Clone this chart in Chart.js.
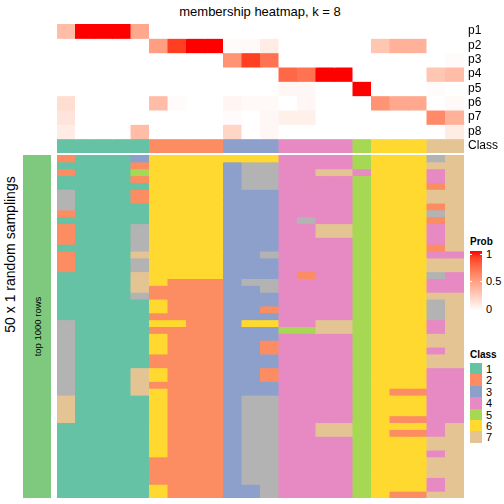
<!DOCTYPE html>
<html>
<head>
<meta charset="utf-8">
<script src="https://cdn.jsdelivr.net/npm/chart.js@4.4.1/dist/chart.umd.min.js"></script>
<style>
  body { margin: 0; background: #fff; font-family: "Liberation Sans", Arial, sans-serif; color: #000; }
  #wrap { position: relative; width: 504px; height: 504px; overflow: hidden; }
  .abs { position: absolute; }
  .rot { transform: rotate(-90deg); text-align: center; white-space: nowrap; }
  .lgTitle { font-weight: bold; font-size: 10px; line-height: 12px; }
  .lgText { font-size: 11px; line-height: 12px; }
</style>
</head>
<body>
<div id="wrap">
  <div class="abs" id="title" style="left:60px;top:4px;width:400px;text-align:center;font-size:13px;line-height:16px;">membership heatmap, k = 8</div>
  <div class="abs rot" style="left:-90px;top:246px;width:200px;font-size:14px;line-height:17px;">50 x 1 random samplings</div>
  <div class="abs" style="left:23px;top:155px;width:28px;height:343px;background:#7FC97F;"></div>
  <div class="abs rot" style="left:-13px;top:321px;width:100px;font-size:9.5px;line-height:11px;">top 1000 rows</div>
  <canvas id="probChart" class="abs" width="447" height="129" style="left:57px;top:24px;"></canvas>
  <canvas id="memberChart" class="abs" width="407" height="343" style="left:57px;top:155px;"></canvas>
  <div id="legend"></div>
</div>
<script>
// columns of the heatmap (samples) and their class
const columns = ['c1','c2','c3','c4','c5','c6','c7','c8','c9','c10','c11','c12','c13','c14','c15','c16','c17','c18','c19','c20','c21','c22'];
const columnClass = [1,1,1,1,1,2,2,2,2,3,3,3,4,4,4,4,5,6,6,6,7,7];

// membership probabilities, one array per row
const probRowNames = ['p1','p2','p3','p4','p5','p6','p7','p8'];
const p1 = [0.35,1,1,1,0.45,0,0,0,0,0,0,0,0,0,0,0,0,0,0,0,0,0];
const p2 = [0,0,0,0,0,0.5,0.9,1,1,0.02,0.03,0.1,0,0,0,0,0,0.3,0.4,0.4,0,0];
const p3 = [0,0,0,0,0,0,0,0,0,0.55,0.9,0.7,0,0,0,0,0,0,0,0,0,0.02];
const p4 = [0,0,0,0,0,0,0,0,0,0,0,0,0.75,0.7,1,1,0,0,0,0,0.3,0.35];
const p5 = [0,0,0,0,0,0,0,0,0,0,0,0,0.04,0.04,0,0,1,0,0,0,0.02,0];
const p6 = [0.18,0,0,0,0,0.35,0.02,0,0,0.05,0.03,0.03,0,0.04,0,0,0,0.55,0.45,0.45,0,0.03];
const p7 = [0.14,0,0,0,0,0,0,0,0,0.02,0,0.04,0.08,0.08,0,0,0,0,0,0,0.6,0.4];
const p8 = [0.1,0,0,0,0.35,0,0,0,0,0.22,0,0.04,0,0,0,0,0,0,0,0,0,0.1];
const probRows = [p1, p2, p3, p4, p5, p6, p7, p8];

// class found in each random sampling (row) for each column, 0 = not matched
const memberRows = [
  '2111366666664444566607',
  '1111266663004444566677',
  '2111566663004477466647',
  '1111266663004444566647',
  '1111166663004444566627',
  '0111266663334444566677',
  '0111266663334444566677',
  '0111166663334444566627',
  '2111166663334444566607',
  '1111166663334044566627',
  '2111066663334477566647',
  '2111066663334477566647',
  '2111066663334444566647',
  '1111066663334444566627',
  '2111766663304444566644',
  '2111066663334444566677',
  '2111066663334444566677',
  '1111766663334244566604',
  '1111762223004444566644',
  '1111722223304444566644',
  '1111022223334444566677',
  '1111162223334444566607',
  '1111162223324444566607',
  '1111122223334444566607',
  '0111166223664477566647',
  '0111122223335577566647',
  '0111162223334444566677',
  '0111162223324444566677',
  '0111162223324444566647',
  '0111122223334444566677',
  '0111122223334444566677',
  '0111762223324444566644',
  '0111762223324444566644',
  '0111722223334444566644',
  '0111762223334444562244',
  '7111162223004444566644',
  '7111162223004444566644',
  '7111162223004444566644',
  '7111162223004444562244',
  '1111162223004477566647',
  '1111162223004477562247',
  '1111162223004444566677',
  '1111162223004444566677',
  '1111162223004444566647',
  '1111122223004444566677',
  '1111122223004444566677',
  '1111122223004444566677',
  '1111122223004444566647',
  '1111162223304444566647',
  '1111162223304444562277'
];

const classNames = ['1','2','3','4','5','6','7'];
const classColors = ['#B3B3B3','#66C2A5','#FC8D62','#8DA0CB','#E78AC3','#A6D854','#FFD92F','#E5C494'];
const probTicks = [1, 0.5, 0];

const FONT = '"Liberation Sans", Arial, sans-serif';

// white -> red, interpolated in LAB like colorRamp2
function probColor(t) {
  const L = 100 + (53.24 - 100) * t, A = 80.09 * t, B = 67.2 * t;
  const fy = (L + 16) / 116, fx = fy + A / 500, fz = fy - B / 200;
  const inv = f => (f ** 3 > 0.008856 ? f ** 3 : (f - 16 / 116) / 7.787);
  const X = 0.95047 * inv(fx), Y = inv(fy), Z = 1.08883 * inv(fz);
  let r = 3.2406 * X - 1.5372 * Y - 0.4986 * Z;
  let g = -0.9689 * X + 1.8758 * Y + 0.0415 * Z;
  let b = 0.0557 * X - 0.204 * Y + 1.057 * Z;
  const gam = c => {
    c = Math.min(1, Math.max(0, c));
    c = c > 0.0031308 ? 1.055 * Math.pow(c, 1 / 2.4) - 0.055 : 12.92 * c;
    return Math.round(c * 255);
  };
  return 'rgb(' + gam(r) + ',' + gam(g) + ',' + gam(b) + ')';
}

const barOpts = { barPercentage: 1, categoryPercentage: 1, borderWidth: 0, inflateAmount: 0.5 };

// top: probability rows + class annotation
const rowLabels = probRowNames.concat(['Class']);
const probSets = probRows.map((vals, i) => ({
  label: probRowNames[i],
  data: vals.map(() => 1),
  backgroundColor: vals.map(probColor)
}));
probSets.push({
  label: 'Class',
  data: columnClass.map(() => 1),
  backgroundColor: columnClass.map(c => classColors[c])
});

new Chart(document.getElementById('probChart'), {
  type: 'bar',
  data: { labels: columns, datasets: probSets },
  options: {
    responsive: false,
    animation: false,
    layout: { padding: 0 },
    plugins: { legend: { display: false }, tooltip: { enabled: false } },
    datasets: { bar: barOpts },
    scales: {
      x: { display: false, stacked: true },
      y: {
        stacked: true, reverse: true, min: 0, max: rowLabels.length, position: 'right',
        grid: { display: false, drawTicks: false },
        border: { display: false },
        afterBuildTicks: ax => { ax.ticks = rowLabels.map((_, i) => ({ value: i + 0.5 })); },
        afterFit: ax => {
          // labels sit inside the rows, no need for edge padding
          ax.width = 40;
          ax.paddingTop = 0;
          ax.paddingBottom = 0;
        },
        ticks: {
          autoSkip: false, padding: 4, color: '#000',
          font: { size: 12, family: FONT },
          callback: (v, i) => rowLabels[i]
        }
      }
    }
  }
});

// bottom: class per random sampling
const memberSets = memberRows.map((row, i) => ({
  label: 'r' + (i + 1),
  data: row.split('').map(() => 1),
  backgroundColor: row.split('').map(ch => classColors[+ch])
}));

new Chart(document.getElementById('memberChart'), {
  type: 'bar',
  data: { labels: columns, datasets: memberSets },
  options: {
    responsive: false,
    animation: false,
    layout: { padding: 0 },
    plugins: { legend: { display: false }, tooltip: { enabled: false } },
    datasets: { bar: barOpts },
    scales: {
      x: { display: false, stacked: true },
      y: { display: false, stacked: true, reverse: true, min: 0, max: memberRows.length }
    }
  }
});

// legends
const lg = document.getElementById('legend');
let html = '<div class="abs lgTitle" style="left:470px;top:236px;">Prob</div>';
const stops = [];
for (let k = 0; k <= 10; k++) stops.push(probColor(1 - k / 10) + ' ' + (k * 10) + '%');
html += '<div class="abs" style="left:470px;top:251px;width:12px;height:60px;background:linear-gradient(to bottom,' + stops.join(',') + ');"></div>';
probTicks.forEach(v => {
  const y = 253.5 + (1 - v) * 55.5;
  html += '<div class="abs" style="left:470px;top:' + y + 'px;width:2px;height:1px;background:#fff"></div>';
  html += '<div class="abs" style="left:480px;top:' + y + 'px;width:2px;height:1px;background:#fff"></div>';
  html += '<div class="abs lgText" style="left:486px;top:' + (y - 6) + 'px;">' + v + '</div>';
});
html += '<div class="abs lgTitle" style="left:470px;top:349px;">Class</div>';
classNames.forEach((n, i) => {
  const y = 363 + i * 11.4;
  html += '<div class="abs" style="left:470px;top:' + y + 'px;width:12px;height:11.4px;background:' + classColors[i + 1] + '"></div>';
  html += '<div class="abs lgText" style="left:486px;top:' + (y) + 'px;">' + n + '</div>';
});
lg.innerHTML = html;
</script>
</body>
</html>
